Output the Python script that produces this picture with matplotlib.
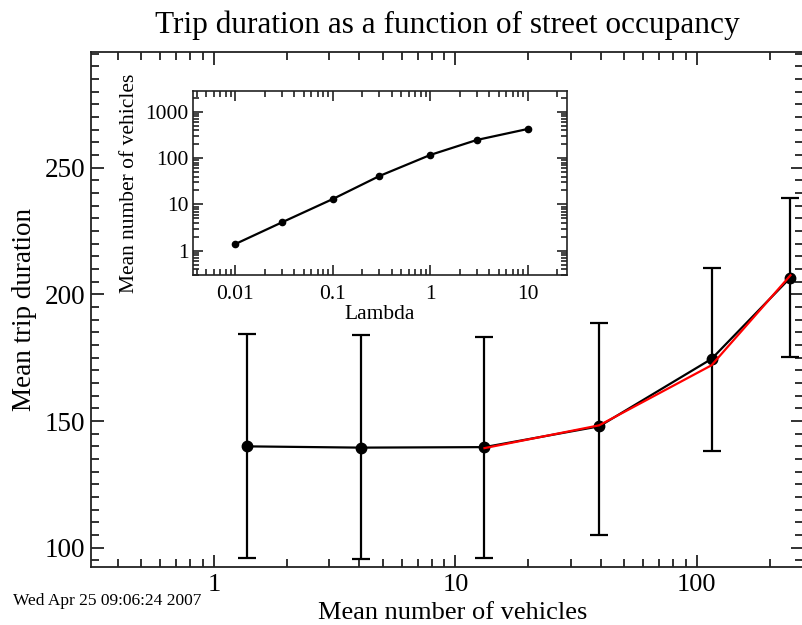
import matplotlib
matplotlib.use('Agg')
import matplotlib.pyplot as plt
from matplotlib.ticker import LogLocator, FixedLocator, FixedFormatter, MultipleLocator, NullFormatter

plt.rcParams['font.family'] = ['Liberation Serif', 'DejaVu Serif']

# Main plot: trip duration vs mean number of vehicles
vehicles = [1.37, 4.05, 13.2, 39.4, 115, 244]
duration = [140.0, 139.5, 139.7, 147.9, 174.5, 206.6]
duration_low = [95.9, 95.4, 95.8, 105.0, 138.0, 175.2]
duration_high = [184.4, 183.8, 183.3, 188.8, 210.2, 237.9]

# Red fit line
fit_vehicles = [13.2, 39.4, 115, 244]
fit_duration = [139.3, 148.3, 172.0, 207.5]

# Inset: mean number of vehicles vs lambda
lambdas = [0.01, 0.03, 0.1, 0.3, 1, 3, 10]
lambda_vehicles = [1.40, 4.1, 13.1, 41, 117, 246, 425]

main_xticks = [1, 10, 100]
main_xlabels = ['1', '10', '100']
inset_xticks = [0.01, 0.1, 1, 10]
inset_xlabels = ['0.01', '0.1', '1', '10']
inset_yticks = [1, 10, 100, 1000]
inset_ylabels = ['1', '10', '100', '1000']

W, H = 803, 625
fig = plt.figure(figsize=(W / 100, H / 100), dpi=100)

spine_color = '#222222'


def style_axes(ax, lw, major_len, minor_len):
    for s in ax.spines.values():
        s.set_linewidth(lw)
        s.set_color(spine_color)
    ax.tick_params(which='both', direction='in', top=True, right=True, color=spine_color, width=lw)
    ax.tick_params(which='major', length=major_len)
    ax.tick_params(which='minor', length=minor_len)


# Main axes
ax = fig.add_axes([91 / W, 1 - 567 / H, 712 / W, 515 / H])
ax.set_xscale('log')
ax.set_xlim(0.31, 275)
ax.set_ylim(92.4, 295.6)

lower = [d - lo for d, lo in zip(duration, duration_low)]
upper = [hi - d for d, hi in zip(duration, duration_high)]
ax.errorbar(vehicles, duration, yerr=[lower, upper], color='black', lw=1.6, elinewidth=1.6,
            capsize=6.5, capthick=1.6, marker='o', markersize=7.5, zorder=3)
ax.plot(fit_vehicles, fit_duration, color='red', lw=1.6, zorder=4)

ax.xaxis.set_major_locator(FixedLocator(main_xticks))
ax.xaxis.set_major_formatter(FixedFormatter(main_xlabels))
ax.xaxis.set_minor_locator(LogLocator(base=10, subs=range(2, 10)))
ax.xaxis.set_minor_formatter(NullFormatter())
ax.yaxis.set_major_locator(MultipleLocator(50))
ax.yaxis.set_minor_locator(MultipleLocator(5))
style_axes(ax, 1.3, 9, 6)
ax.tick_params(axis='x', which='major', labelsize=19, pad=5)
ax.tick_params(axis='y', which='major', labelsize=19.5, pad=4)

ax.set_xlabel('Mean number of vehicles', fontsize=19)
ax.xaxis.set_label_coords(0.508, -0.09)
ax.xaxis.label.set_va('center')
ax.set_ylabel('Mean trip duration', fontsize=19.5)
ax.yaxis.set_label_coords(-0.094, 0.5)
ax.yaxis.label.set_va('center')

fig.text(447 / W, 1 - 33 / H, 'Trip duration as a function of street occupancy',
         fontsize=22.5, ha='center', va='baseline')
fig.text(13 / W, 1 - 601 / H, 'Wed Apr 25 09:06:24 2007', fontsize=12.5, ha='left', va='center')

# Inset axes
ins = fig.add_axes([193.3 / W, 1 - 275 / H, 373.4 / W, 184.3 / H])
ins.set_xscale('log')
ins.set_yscale('log')
ins.set_xlim(0.0037, 25)
ins.set_ylim(0.3, 2840)
ins.plot(lambdas, lambda_vehicles, color='black', lw=1.6, marker='o', markersize=4.5)

ins.xaxis.set_major_locator(FixedLocator(inset_xticks))
ins.xaxis.set_major_formatter(FixedFormatter(inset_xlabels))
ins.xaxis.set_minor_locator(LogLocator(base=10, subs=range(2, 10)))
ins.xaxis.set_minor_formatter(NullFormatter())
ins.yaxis.set_major_locator(FixedLocator(inset_yticks))
ins.yaxis.set_major_formatter(FixedFormatter(inset_ylabels))
ins.yaxis.set_minor_locator(LogLocator(base=10, subs=range(2, 10)))
ins.yaxis.set_minor_formatter(NullFormatter())
style_axes(ins, 1.2, 7, 4.5)
ins.tick_params(axis='x', which='major', labelsize=15.5, pad=7)
ins.tick_params(axis='y', which='major', labelsize=15.5, pad=3.5)

ins.set_xlabel('Lambda', fontsize=15.5)
ins.xaxis.set_label_coords(0.5, -0.215)
ins.xaxis.label.set_va('center')
ins.set_ylabel('Mean number of vehicles', fontsize=15.5)
ins.yaxis.set_label_coords(-0.17, 0.5)
ins.yaxis.label.set_va('center')

fig.savefig('out.png', dpi=100)
